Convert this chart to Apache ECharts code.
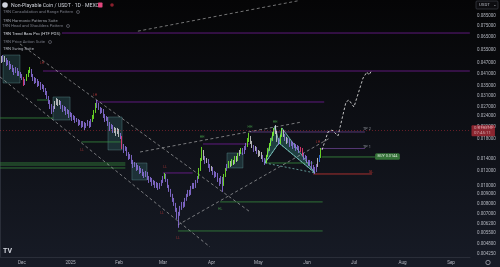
<!DOCTYPE html>
<html><head><meta charset="utf-8">
<script src="https://cdn.jsdelivr.net/npm/echarts@6/dist/echarts.min.js"></script>
<style>html,body{margin:0;padding:0;background:#0a0a0c;}#c{width:500px;height:267px;}</style>
</head><body><div id="c"></div>
<script>
// ---------- DATA ----------
const START_DATE = '2024-11-17';          // day 0 of the daily candles
const monthTickDays = [14, 45, 76, 104, 135, 165, 196, 226, 257, 288];
const monthTickLabels = ['Dec', '2025', 'Feb', 'Mar', 'Apr', 'May', 'Jun', 'Jul', 'Aug', 'Sep'];
const priceTicks = [0.085, 0.075, 0.065, 0.055, 0.047, 0.041, 0.035, 0.031, 0.027, 0.024, 0.021, 0.018,
  0.014, 0.012, 0.010, 0.009, 0.008, 0.007, 0.0062, 0.0055, 0.0048, 0.00425];
const PRICE_UNIT = 1e-5;                  // candle values below are in 1e-5 USDT
// [open, close, low, high]
const candles = [
[5251,4993,4869,5385],[4993,4808,4689,5120],[4808,5056,4748,5185],[5056,4869,4748,5120],[4869,4630,4515,4993],
[4630,4748,4572,4869],[4748,4403,4294,4808],[4403,4515,4348,4630],[4515,4294,4187,4572],[4294,4187,4032,4403],
[4187,4348,4135,4459],[4348,4083,3982,4403],[4083,4135,3982,4240],[4135,3982,3883,4187],[3982,3883,3786,4083],
[3883,3601,3511,3932],[3601,3786,3556,3834],[3786,3982,3739,4083],[3982,4187,3932,4294],[4187,4294,4135,4459],
[4294,4032,3932,4348],[4032,3834,3739,4083],[3834,3692,3601,3932],[3692,3786,3646,3883],[3786,3556,3467,3834],
[3556,3646,3511,3739],[3646,3424,3339,3692],[3424,3511,3381,3601],[3511,3339,3256,3556],[3339,3256,3135,3424],
[3256,3058,2982,3297],[3058,2908,2800,3096],[2908,2730,2629,2944],[2730,2597,2469,2800],[2597,2663,2532,2730],
[2663,2835,2629,2908],[2835,2944,2765,3019],[2944,2800,2730,2982],[2800,2871,2765,2944],[2871,2696,2629,2908],
[2696,2597,2532,2765],[2597,2663,2564,2730],[2663,2501,2439,2696],[2501,2564,2469,2629],[2564,2408,2348,2597],
[2408,2469,2378,2532],[2469,2319,2261,2501],[2319,2378,2290,2439],[2378,2261,2205,2408],[2261,2290,2233,2348],
[2290,2178,2124,2319],[2178,2233,2150,2290],[2233,2124,2071,2261],[2124,2205,2097,2261],[2205,2097,2019,2233],
[2097,2150,2071,2205],[2150,2233,2124,2290],[2233,2124,2071,2261],[2124,2261,2097,2319],[2261,2348,2233,2439],
[2348,2532,2319,2597],[2532,2730,2501,2835],[2730,2800,2663,2944],[2800,2663,2597,2835],[2663,2532,2469,2696],
[2532,2597,2501,2663],[2597,2408,2348,2629],[2408,2290,2233,2469],[2290,2348,2261,2408],[2348,2178,2124,2378],
[2178,2071,1994,2233],[2071,2124,2045,2178],[2124,1994,1945,2150],[1994,2045,1945,2097],[2045,1945,1873,2071],
[1945,2019,1920,2071],[2019,1896,1849,2045],[1896,1849,1803,1945],[1849,1651,1590,1873],[1651,1570,1512,1693],
[1570,1610,1551,1651],[1610,1493,1456,1631],[1493,1420,1385,1531],[1420,1456,1402,1493],[1456,1350,1317,1475],
[1350,1284,1252,1385],[1284,1317,1268,1350],[1317,1237,1206,1333],[1237,1268,1221,1300],[1268,1191,1161,1284],
[1191,1221,1176,1252],[1221,1161,1132,1237],[1161,1132,1104,1191],[1132,1176,1118,1206],[1176,1104,1077,1191],
[1104,1064,1037,1132],[1064,1091,1050,1118],[1091,1024,999,1104],[1024,1050,1012,1077],[1050,999,974,1064],
[999,1024,974,1050],[1024,974,950,1037],[974,1012,962,1037],[1012,1050,999,1077],[1050,1104,1037,1132],
[1104,1147,1091,1176],[1147,1077,1050,1161],[1077,999,974,1091],[999,950,927,1012],[950,892,870,962],
[892,838,817,904],[838,797,777,859],[797,739,721,807],[739,686,660,758],[686,703,590,721],
[703,758,686,777],[758,797,739,817],[797,777,758,817],[777,838,768,859],[838,881,828,904],
[881,927,870,950],[927,904,881,950],[904,974,892,999],[974,1012,962,1037],[1012,987,962,1037],
[987,1050,974,1077],[1050,1104,1037,1132],[1104,1221,1091,1252],[1221,1385,1206,1420],[1385,1531,1367,1631],
[1531,1420,1385,1570],[1420,1350,1317,1456],[1350,1385,1333,1420],[1385,1284,1252,1402],[1284,1221,1191,1317],
[1221,1252,1206,1284],[1252,1176,1147,1268],[1176,1132,1104,1206],[1132,1161,1118,1191],[1161,1077,1050,1176],
[1077,1037,999,1104],[1037,1104,1024,1132],[1104,1012,927,1118],[1012,1132,999,1161],[1132,1221,1118,1252],
[1221,1284,1206,1317],[1284,1333,1252,1367],[1333,1300,1268,1367],[1300,1367,1284,1402],[1367,1333,1300,1385],
[1333,1420,1317,1456],[1420,1385,1350,1456],[1385,1475,1367,1512],[1475,1531,1456,1570],[1531,1570,1493,1610],
[1570,1512,1475,1610],[1512,1610,1493,1651],[1610,1651,1570,1715],[1651,1781,1631,1826],[1781,1826,1737,1945],
[1826,1737,1693,1873],[1737,1651,1610,1759],[1651,1570,1531,1672],[1570,1610,1551,1651],[1610,1531,1493,1631],
[1531,1475,1438,1570],[1475,1512,1456,1551],[1512,1438,1402,1531],[1438,1385,1350,1475],[1385,1350,1300,1420],
[1350,1456,1333,1475],[1456,1570,1438,1610],[1570,1672,1551,1715],[1672,1781,1651,1826],[1781,1920,1759,1969],
[1920,2019,1873,2071],[2019,1969,1920,2150],[1969,1781,1737,1994],[1781,1715,1672,1826],[1715,1873,1693,1896],
[1873,1994,1849,2071],[1994,1896,1849,2019],[1896,1803,1759,1920],[1803,1737,1693,1849],[1737,1781,1715,1826],
[1781,1672,1631,1803],[1672,1715,1651,1759],[1715,1631,1590,1737],[1631,1672,1610,1715],[1672,1590,1551,1693],
[1590,1631,1570,1672],[1631,1551,1512,1651],[1551,1590,1531,1631],[1590,1493,1456,1610],[1493,1420,1385,1512],
[1420,1438,1402,1475],[1438,1367,1333,1456],[1367,1317,1284,1385],[1317,1350,1300,1385],[1350,1268,1237,1367],
[1268,1237,1206,1300],[1237,1206,1161,1268],[1206,1284,1191,1317],[1284,1385,1268,1420],[1385,1438,1350,1475],
[1438,1531,1420,1610]
];
// trend-bar state per candle: d=down, g=up, w=neutral, r=weak, b=reversal
const trendState = 'dwdwdddddd' + 'dddddrdggg' + 'dddddddddd' + 'dddddwwwwd' + 'dddddddddd' +
  'dddddddddg' + 'ggdddddddd' + 'dddwwwwdrd' + 'dddddddddd' + 'dddddddddd' + 'dddddgdddd' +
  'dddddddddd' + 'dddddddggg' + 'wdwddwdddd' + 'dddggdgwgw' + 'gwgwgdddgg' + 'wwdwdwwwdd' +
  'ggggggwwdg' + 'gwdwdddddd' + 'ddrrdddddd' + 'dddwbg';
// horizontal levels: [fromDay, toDay, price, kind]
const levelLines = [
  [39.5, 300, 0.06837, 'res'], [27.4, 300, 0.0424, 'res'], [62, 207, 0.02871, 'res'],
  [0, 34, 0.02348, 'sup'], [23.6, 30.6, 0.02944, 'sup'], [52, 77, 0.01737, 'sup'],
  [0, 80, 0.01333, 'sup'], [0, 80, 0.0130, 'sup'], [0, 80, 0.01252, 'sup'],
  [104, 123, 0.01176, 'res'], [129.6, 159.6, 0.01693, 'res'],
  [140.5, 206, 0.00817, 'sup'], [113.6, 206, 0.00567, 'sup'], [170.5, 200, 0.01333, 'sup'],
  [159.6, 233, 0.01969, 'tp'], [204, 233, 0.0160, 'tp'],
  [205.5, 239.5, 0.01438, 'buy'], [200, 237.5, 0.01161, 'sl']
];
// dashed trend lines: [[day, price], [day, price]]
const trendLines = [
  [[12.7, 0.0596], [159.6, 0.00721]],
  [[0, 0.03932], [134, 0.00464]],
  [[89.4, 0.01531], [192.8, 0.02233]],
  [[113.6, 0.00612], [210.7, 0.01826]],
  [[88, 0.0700], [191.5, 0.1030]]
];
// projected path
const projection = [[205.6, 0.0157], [209.4, 0.01969], [212, 0.02019], [215.8, 0.01873], [220.9, 0.02871],
  [222.8, 0.02944], [226, 0.02696], [231.8, 0.03883], [234.3, 0.04187], [235.6, 0.04032], [237.5, 0.04294]];
// consolidation ranges: [fromDay, toDay, top, bottom]
const ranges = [
  [1.9, 12.7, 0.05185, 0.03646], [33.8, 44.7, 0.03058, 0.0229], [68.9, 77.9, 0.02378, 0.0157],
  [84.2, 93.8, 0.01333, 0.01077], [144.9, 155.1, 0.01512, 0.01252]
];
// bat pattern X A B C D
const batX = [169.2, 0.01333], batA = [175.6, 0.02124], batB = [178.1, 0.01715],
      batC = [180, 0.02071], batD = [201.1, 0.01176];
// swing labels: [day, price, text]
const swingLabels = [
  [26.8, 0.0469, 'LH'], [60.6, 0.03135, 'LH'], [52.3, 0.0157, 'LL'], [105.3, 0.01268, 'LL'],
  [103.4, 0.00712, 'LL'], [113.6, 0.0052, 'LL'], [129, 0.01849, 'HH'], [140.5, 0.00749, 'HL'],
  [159.6, 0.02097, 'HH'], [175.6, 0.02233, 'HH'], [203, 0.01737, 'LH']
];
const tradeLabels = [[234.3, 0.02045, 'TP 2'], [234.3, 0.01631, 'TP 1'], [236.9, 0.01191, 'SL']];
const buyLabel = [247.4, 0.01447, 'BUY 0.0144'];
const countdown = '07:45:11';

// ---------- BUILD ----------
const stateColor = { d: '#9677ea', g: '#7cff2a', w: '#dcdcdc', r: '#ff3d7f', b: '#2f7bff' };
const kindStyle = {
  res: { color: '#7b1fa2', width: 0.75 }, sup: { color: '#3a9140', width: 0.75 },
  tp: { color: '#6d4596', width: 0.75 }, buy: { color: '#3f9a43', width: 0.75 }, sl: { color: '#d83a36', width: 0.75 }
};
const candleData = candles.map((r, i) => {
  const c = stateColor[trendState[i]] || stateColor.d;
  return { value: [i, r[0] * PRICE_UNIT, r[1] * PRICE_UNIT, r[2] * PRICE_UNIT, r[3] * PRICE_UNIT],
    itemStyle: { color: c, color0: c, borderColor: c, borderColor0: c } };
});
const lastPrice = candles[candles.length - 1][1] * PRICE_UNIT;

const series = [];
series.push({
  type: 'custom', z: 1, silent: true, clip: true, data: ranges,
  encode: { x: [0, 1], y: [2, 3] },
  renderItem: (p, api) => {
    const a = api.coord([api.value(0), api.value(2)]);
    const b = api.coord([api.value(1), api.value(3)]);
    return { type: 'rect', shape: { x: a[0], y: a[1], width: b[0] - a[0], height: b[1] - a[1] },
      style: { fill: 'rgba(77,160,160,0.22)', stroke: 'rgba(130,200,200,0.45)', lineWidth: 0.6 } };
  }
});
series.push({
  type: 'custom', z: 1, silent: true, clip: true,
  data: [[...batX, ...batA, ...batB], [...batB, ...batC, ...batD]],
  encode: { x: [0, 2, 4], y: [1, 3, 5] },
  renderItem: (p, api) => {
    const pts = [0, 2, 4].map(k => api.coord([api.value(k), api.value(k + 1)]));
    return { type: 'polygon', shape: { points: pts },
      style: { fill: 'rgba(77,182,172,0.28)', stroke: '#80cbc4', lineWidth: 0.8 } };
  }
});
levelLines.forEach(l => {
  const s = kindStyle[l[3]];
  series.push({ type: 'line', z: 3, silent: true, symbol: 'none', data: [[l[0], l[2]], [l[1], l[2]]],
    lineStyle: { color: s.color, width: s.width } });
});
trendLines.forEach(t => {
  series.push({ type: 'line', z: 3, silent: true, symbol: 'none', data: t,
    lineStyle: { color: 'rgba(215,215,215,0.7)', width: 0.75, type: [3, 2.5] } });
});
series.push({ type: 'line', z: 3, silent: true, symbol: 'none', data: [batX, batB],
  lineStyle: { color: '#80cbc4', width: 0.7, type: [2, 2] } });
series.push({ type: 'line', z: 3, silent: true, symbol: 'none', data: [batB, batD],
  lineStyle: { color: '#80cbc4', width: 0.7, type: [2, 2] } });
series.push({ type: 'line', z: 3, silent: true, symbol: 'none', data: [batX, batD],
  lineStyle: { color: '#80cbc4', width: 0.7, type: [2, 2] } });
series.push({ type: 'line', z: 3, silent: true, symbol: 'none', data: projection,
  lineStyle: { color: 'rgba(235,235,235,0.9)', width: 0.9, type: [2.5, 2] } });
series.push({
  type: 'candlestick', z: 4, barWidth: 1.3, data: candleData, encode: { x: 0, y: [1, 2, 3, 4] },
  itemStyle: { borderWidth: 0.8 },
  markLine: {
    silent: true, symbol: ['none', 'none'], animation: false,
    lineStyle: { color: '#f23645', type: [1, 2], width: 0.7, opacity: 0.55 },
    label: { show: true, position: 'end', formatter: lastPrice.toFixed(6) + '\n' + countdown,
      color: '#ffffff', backgroundColor: '#f23645', fontSize: 4.4, lineHeight: 5, padding: [0.5, 2.5, 0.5, 2.5],
      distance: 1.5, borderRadius: 1, fontFamily: 'Roboto' },
    data: [{ yAxis: lastPrice }]
  }
});
series.push({
  type: 'scatter', z: 5, silent: true, symbolSize: 0,
  data: swingLabels.map(s => ({ value: [s[0], s[1]],
    label: { show: true, formatter: s[2], position: 'inside', fontSize: 3.4, fontFamily: 'Roboto',
      color: s[2][0] === 'L' ? '#c23a3a' : '#4caf50' } }))
});
series.push({
  type: 'scatter', z: 5, silent: true, symbolSize: 0,
  data: tradeLabels.map(s => ({ value: [s[0], s[1]],
    label: { show: true, formatter: s[2], position: 'inside', fontSize: 3.8, fontFamily: 'Roboto',
      color: s[2] === 'SL' ? '#e53935' : '#b2b5be' } }))
});
series.push({
  type: 'scatter', z: 5, silent: true, symbolSize: 0,
  data: [{ value: [buyLabel[0], buyLabel[1]],
    label: { show: true, formatter: buyLabel[2], position: 'inside', fontSize: 3.8, fontFamily: 'Roboto',
      color: '#ffffff', backgroundColor: '#3d8b40', padding: [1.2, 2.5, 1.2, 2.5], borderRadius: 1.5 } }]
});

const greyTxt = '#787b86';
const graphic = [
  { type: 'circle', shape: { cx: 5, cy: 5, r: 2.8 }, style: { fill: '#cfd3dc' } },
  { type: 'text', x: 11, y: 5.3, style: { text: 'Non-Playable Coin / USDT · 1D · MEXC', fill: '#d1d4dc', font: '5.2px Roboto', verticalAlign: 'middle' } },
  { type: 'rect', shape: { x: 98, y: 2.5, width: 4.5, height: 5, r: 0.8 }, style: { fill: '#e0467c' } },
  { type: 'circle', shape: { cx: 112, cy: 5, r: 1.8 }, style: { fill: '#8a1f2c' } },
  { type: 'text', x: 3, y: 12, style: { text: 'TRN Consolidation and Range Pattern', fill: greyTxt, font: '4.2px Roboto', verticalAlign: 'middle' } },
  { type: 'circle', shape: { cx: 78, cy: 12, r: 1.5 }, style: { fill: 'none', stroke: greyTxt, lineWidth: 0.6 } },
  { type: 'text', x: 3, y: 21, style: { text: 'TRN Harmonic Patterns Suite', fill: '#9598a1', font: '4.2px Roboto', verticalAlign: 'middle' } },
  { type: 'text', x: 2, y: 26, style: { text: 'TRN Head and Shoulders Pattern', fill: greyTxt, font: '4.2px Roboto', verticalAlign: 'middle' } },
  { type: 'circle', shape: { cx: 68, cy: 26, r: 1.5 }, style: { fill: 'none', stroke: greyTxt, lineWidth: 0.6 } },
  { type: 'text', x: 3, y: 33.5, style: { text: 'TRN Trend Bars Pro (HTF POS)', fill: '#d1d4dc', font: '4.2px Roboto', verticalAlign: 'middle' } },
  { type: 'text', x: 3, y: 42, style: { text: 'TRN Price Action Suite', fill: greyTxt, font: '4.2px Roboto', verticalAlign: 'middle' } },
  { type: 'circle', shape: { cx: 50, cy: 42, r: 1.5 }, style: { fill: 'none', stroke: greyTxt, lineWidth: 0.6 } },
  { type: 'text', x: 3, y: 48.5, style: { text: 'TRN Swing Suite', fill: '#b2b5be', font: '4.2px Roboto', verticalAlign: 'middle' } },
  { type: 'rect', shape: { x: 476, y: 1, width: 22, height: 8, r: 1 }, style: { fill: '#0d0d10', stroke: '#434651', lineWidth: 0.6 } },
  { type: 'text', x: 479, y: 5, style: { text: 'USDT', fill: '#b2b5be', font: '4.4px Roboto', verticalAlign: 'middle' } },
  { type: 'text', x: 493, y: 5, style: { text: '⌄', fill: '#b2b5be', font: '4.4px DejaVu Sans', verticalAlign: 'middle' } },
  { type: 'text', x: 3, y: 251.5, style: { text: 'TV', fill: '#d1d4dc', font: 'bold 7px Roboto', verticalAlign: 'middle' } },
  { type: 'circle', shape: { cx: 488, cy: 262.5, r: 2.2 }, style: { fill: 'none', stroke: '#b2b5be', lineWidth: 0.7 } }
];

const chart = echarts.init(document.getElementById('c'), null, { renderer: 'canvas' });
chart.setOption({
  animation: false,
  backgroundColor: { type: 'linear', x: 0, y: 0, x2: 0, y2: 1,
    colorStops: [{ offset: 0, color: '#050506' }, { offset: 1, color: '#171b26' }] },
  grid: { left: 0, right: 30, top: 0, bottom: 10 },
  xAxis: {
    type: 'value', min: -0.05, max: 300.1,
    axisLine: { show: true, lineStyle: { color: '#2a2e39', width: 1 } },
    axisTick: { show: false }, splitLine: { show: false },
    axisLabel: { customValues: monthTickDays, formatter: v => monthTickLabels[monthTickDays.indexOf(v)] || '',
      color: '#b2b5be', fontSize: 4.6, margin: 3.5, fontFamily: 'Roboto' }
  },
  yAxis: {
    type: 'log', position: 'right', min: 0.004086, max: 0.10357,
    axisLine: { show: true, lineStyle: { color: '#2a2e39', width: 1 } },
    axisTick: { show: false }, splitLine: { show: false },
    axisLabel: { customValues: priceTicks, formatter: v => Number(v).toFixed(6),
      color: '#b2b5be', fontSize: 4.5, margin: 7, fontFamily: 'Roboto' }
  },
  graphic: graphic,
  series: series
});
</script></body></html>
